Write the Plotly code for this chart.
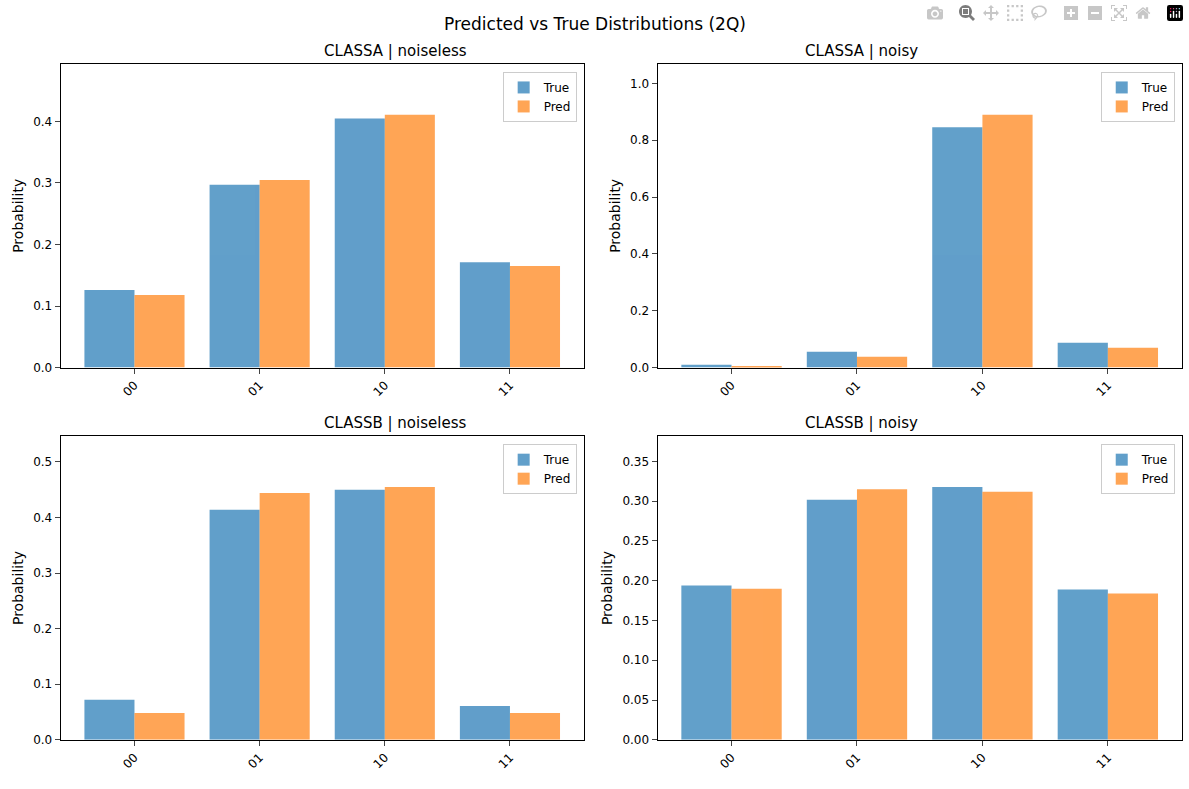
import plotly.graph_objects as go

states = ["00", "01", "10", "11"]
titles = ["CLASSA | noiseless", "CLASSA | noisy", "CLASSB | noiseless", "CLASSB | noisy"]
true_a_clean = [0.126, 0.297, 0.405, 0.171]
pred_a_clean = [0.118, 0.305, 0.411, 0.165]
true_a_noisy = [0.010, 0.056, 0.846, 0.087]
pred_a_noisy = [0.004, 0.038, 0.890, 0.070]
true_b_clean = [0.072, 0.414, 0.450, 0.061]
pred_b_clean = [0.048, 0.444, 0.455, 0.048]
true_b_noisy = [0.194, 0.302, 0.318, 0.189]
pred_b_noisy = [0.190, 0.315, 0.312, 0.184]

panels = [(true_a_clean, pred_a_clean), (true_a_noisy, pred_a_noisy),
          (true_b_clean, pred_b_clean), (true_b_noisy, pred_b_noisy)]
xdoms = [[0.051, 0.491], [0.553, 0.994]]
ydoms = [[0.530, 0.918], [0.054, 0.442]]
dticks = [0.1, 0.2, 0.1, 0.05]
fmts = [".1f", ".1f", ".1f", ".2f"]

fig = go.Figure()
pos = list(range(len(states)))
for i, (t, p) in enumerate(panels):
    n = "" if i == 0 else str(i + 1)
    lg = "legend" + n
    top = max(t + p) * 1.2
    for name, vals, col, off in [("True", t, "#1f77b4", -0.4), ("Pred", p, "#ff7f0e", 0.0)]:
        fig.add_bar(x=pos, y=vals, name=name, marker_color=col, opacity=0.7,
                    width=0.4, offset=off, xaxis="x" + n, yaxis="y" + n, legend=lg,
                    marker_line_width=0)
    xd = xdoms[i % 2]
    yd = ydoms[i // 2]
    fig.layout["xaxis" + n] = dict(domain=xd, anchor="y" + n, range=[-0.59, 3.59],
                                   tickvals=pos, ticktext=states, tickangle=-45,
                                   showline=True, mirror=True, linecolor="black",
                                   ticks="outside", showgrid=False)
    fig.layout["yaxis" + n] = dict(domain=yd, anchor="x" + n, range=[0, top],
                                   dtick=dticks[i], tickformat=fmts[i],
                                   showline=True, mirror=True, linecolor="black",
                                   ticks="outside", showgrid=False, zeroline=False,
                                   title=dict(text="Probability", standoff=6))
    fig.layout[lg] = dict(x=xd[1] - 0.006, y=yd[1] - 0.01, xanchor="right", yanchor="top",
                          bgcolor="white", bordercolor="#cccccc", borderwidth=1,
                          font=dict(size=12))
    fig.add_annotation(text=titles[i], x=(xd[0] + xd[1]) / 2, y=yd[1], xref="paper",
                       yref="paper", yanchor="bottom", showarrow=False, yshift=2,
                       font=dict(size=15))

fig.add_annotation(text="Predicted vs True Distributions (2Q)", x=0.5, y=0.985,
                   xref="paper", yref="paper", showarrow=False, font=dict(size=17))
fig.update_layout(width=1189, height=789, margin=dict(l=0, r=0, t=0, b=0),
                  plot_bgcolor="white", paper_bgcolor="white", barmode="overlay",
                  font=dict(family="DejaVu Sans", size=12, color="black"))
fig.write_html("out.html", post_script="document.body.style.margin='0';")
